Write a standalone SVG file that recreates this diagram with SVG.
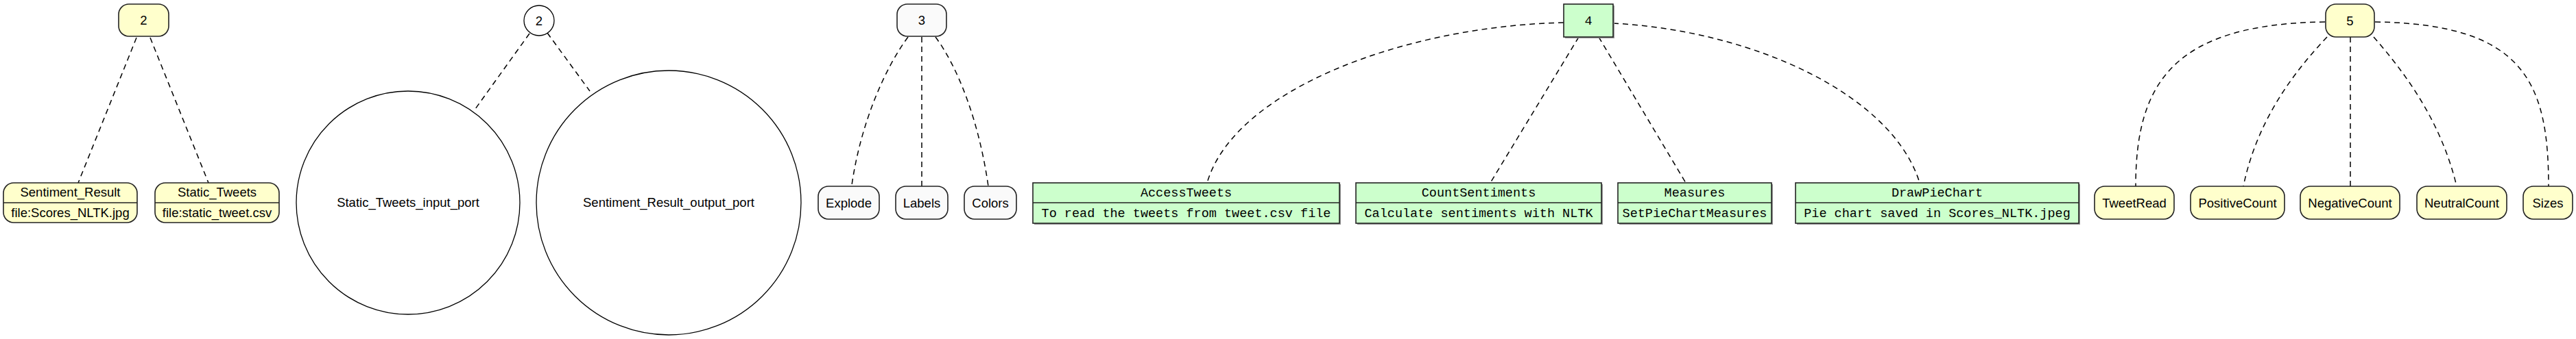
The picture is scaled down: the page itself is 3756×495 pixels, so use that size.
<svg xmlns="http://www.w3.org/2000/svg" width="3756" height="495" viewBox="0 0 3756 495">
<style>
.bg{fill:#ffffff}
.edge{fill:none;stroke:#000;stroke-width:1.5;stroke-dasharray:8,6}
.yel{fill:#ffffcc;stroke:#222;stroke-width:1.6}
.wht{fill:#fafafa;stroke:#222;stroke-width:1.6}
.circ{fill:#ffffff;stroke:#000;stroke-width:1.3}
.grn{fill:#ccffcc;stroke:#222;stroke-width:1.6}
.shd{fill:#999;stroke:none}
.div{stroke:#222;stroke-width:1.4}
.t{font-family:"Liberation Sans",Arial,Helvetica,sans-serif;font-size:18.5px;fill:#000;text-anchor:middle}
.m{font-family:"Liberation Mono","Courier New",monospace;font-size:18.5px;fill:#000;text-anchor:middle}
</style>
<rect class="bg" x="0" y="0" width="3756" height="495"/>
<g id="connectors">
  <path class="edge" d="M199,55 L114,267"/>
  <path class="edge" d="M219,55 L304,267"/>
  <path class="edge" d="M772,49 L693,159"/>
  <path class="edge" d="M798,48 L860,133"/>
  <path class="edge" d="M1324,54 C1290,100 1255,180 1242,270"/>
  <path class="edge" d="M1344,54 L1344,272"/>
  <path class="edge" d="M1364,54 C1398,100 1428,180 1441,272"/>
  <path class="edge" d="M2280,33 C2050,38 1800,130 1760,267"/>
  <path class="edge" d="M2302,54 L2173,267"/>
  <path class="edge" d="M2331,54 L2458,267"/>
  <path class="edge" d="M2352,34 C2560,45 2760,140 2799,267"/>
  <path class="edge" d="M3390,32 C3170,35 3114,120 3114,272"/>
  <path class="edge" d="M3393,54 C3340,110 3290,180 3271,272"/>
  <path class="edge" d="M3427,54 L3427,272"/>
  <path class="edge" d="M3461,54 C3510,110 3560,180 3582,272"/>
  <path class="edge" d="M3463,32 C3680,35 3716,120 3716,272"/>
</g>
<g id="n2a">
  <rect class="yel" x="173" y="6" width="73" height="47" rx="15"/>
  <text class="t" x="209.5" y="36">2</text>
</g>
<g id="sentiment_result">
  <rect class="yel" x="5" y="267" width="195" height="58" rx="15"/>
  <line class="div" x1="5" y1="296" x2="200" y2="296"/>
  <text class="t" x="102.5" y="287">Sentiment_Result</text>
  <text class="t" x="102.5" y="317">file:Scores_NLTK.jpg</text>
</g>
<g id="static_tweets">
  <rect class="yel" x="226" y="267" width="181" height="58" rx="15"/>
  <line class="div" x1="226" y1="296" x2="407" y2="296"/>
  <text class="t" x="316.5" y="287">Static_Tweets</text>
  <text class="t" x="316.5" y="317">file:static_tweet.csv</text>
</g>
<g id="n2b">
  <circle class="circ" cx="786" cy="30" r="22"/>
  <text class="t" x="786" y="36.5">2</text>
</g>
<g id="static_tweets_input_port">
  <circle class="circ" cx="595" cy="296" r="163"/>
  <text class="t" x="595" y="302">Static_Tweets_input_port</text>
</g>
<g id="sentiment_result_output_port">
  <circle class="circ" cx="975" cy="296" r="193"/>
  <text class="t" x="975" y="302">Sentiment_Result_output_port</text>
</g>
<g id="n3">
  <rect class="wht" x="1308" y="6" width="72" height="47" rx="15"/>
  <text class="t" x="1344" y="36">3</text>
</g>
<g id="explode">
  <rect class="wht" x="1193" y="272" width="89" height="48" rx="15"/>
  <text class="t" x="1237.5" y="302.5">Explode</text>
</g>
<g id="labels">
  <rect class="wht" x="1306" y="272" width="76" height="48" rx="15"/>
  <text class="t" x="1344" y="302.5">Labels</text>
</g>
<g id="colors">
  <rect class="wht" x="1406" y="272" width="76" height="48" rx="15"/>
  <text class="t" x="1444" y="302.5">Colors</text>
</g>
<g id="n4">
  <rect class="shd" x="2282" y="8" width="72" height="48"/>
  <rect class="grn" x="2280" y="6" width="72" height="48"/>
  <text class="m" x="2316" y="36">4</text>
</g>
<g id="accesstweets">
  <rect class="shd" x="1508" y="269" width="447" height="59"/>
  <rect class="grn" x="1506" y="267" width="447" height="59"/>
  <line class="div" x1="1506" y1="296" x2="1953" y2="296"/>
  <text class="m" x="1729.5" y="287">AccessTweets</text>
  <text class="m" x="1729.5" y="317">To read the tweets from tweet.csv file</text>
</g>
<g id="countsentiments">
  <rect class="shd" x="1979" y="269" width="358" height="59"/>
  <rect class="grn" x="1977" y="267" width="358" height="59"/>
  <line class="div" x1="1977" y1="296" x2="2335" y2="296"/>
  <text class="m" x="2156" y="287">CountSentiments</text>
  <text class="m" x="2156" y="317">Calculate sentiments with NLTK</text>
</g>
<g id="measures">
  <rect class="shd" x="2361" y="269" width="224" height="59"/>
  <rect class="grn" x="2359" y="267" width="224" height="59"/>
  <line class="div" x1="2359" y1="296" x2="2583" y2="296"/>
  <text class="m" x="2471" y="287">Measures</text>
  <text class="m" x="2471" y="317">SetPieChartMeasures</text>
</g>
<g id="drawpiechart">
  <rect class="shd" x="2620" y="269" width="413" height="59"/>
  <rect class="grn" x="2618" y="267" width="413" height="59"/>
  <line class="div" x1="2618" y1="296" x2="3031" y2="296"/>
  <text class="m" x="2824.5" y="287">DrawPieChart</text>
  <text class="m" x="2824.5" y="317">Pie chart saved in Scores_NLTK.jpeg</text>
</g>
<g id="n5">
  <rect class="yel" x="3391" y="6" width="71" height="48" rx="15"/>
  <text class="t" x="3426.5" y="36.5">5</text>
</g>
<g id="tweetread">
  <rect class="yel" x="3054" y="272" width="116" height="48" rx="15"/>
  <text class="t" x="3112" y="302.5">TweetRead</text>
</g>
<g id="positivecount">
  <rect class="yel" x="3194" y="272" width="137" height="48" rx="15"/>
  <text class="t" x="3262.5" y="302.5">PositiveCount</text>
</g>
<g id="negativecount">
  <rect class="yel" x="3354" y="272" width="145" height="48" rx="15"/>
  <text class="t" x="3426.5" y="302.5">NegativeCount</text>
</g>
<g id="neutralcount">
  <rect class="yel" x="3524" y="272" width="131" height="48" rx="15"/>
  <text class="t" x="3589.5" y="302.5">NeutralCount</text>
</g>
<g id="sizes">
  <rect class="yel" x="3679" y="272" width="72" height="48" rx="15"/>
  <text class="t" x="3715" y="302.5">Sizes</text>
</g>
</svg>
